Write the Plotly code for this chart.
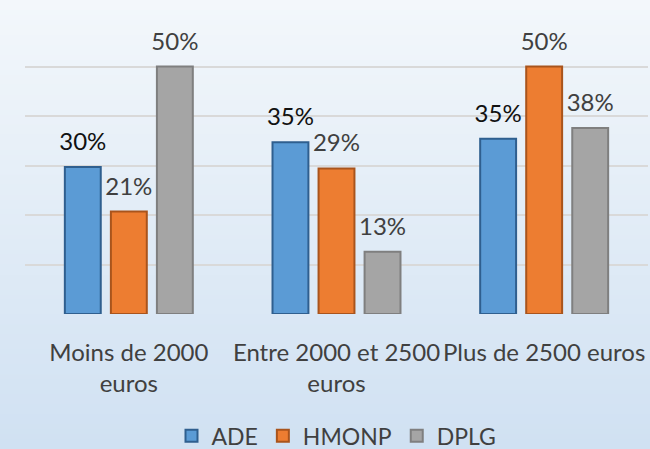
import plotly.graph_objects as go

categories = ["Moins de 2000<br>euros", "Entre 2000 et 2500<br>euros", "Plus de 2500 euros"]
series_names = ["ADE", "HMONP", "DPLG"]
ade = [0.297, 0.347, 0.354]
hmonp = [0.207, 0.294, 0.50]
dplg = [0.50, 0.126, 0.376]

fills = ["#5b9bd5", "#ed7d31", "#a5a5a5"]
borders = ["#2f5f8f", "#a9541c", "#7f7f7f"]
label_colors = ["#111111", "#404040", "#404040"]
FONT = "Lato"
FS = 24
BARGAP = 0.335

fig = go.Figure()
for name, vals, fc, bc in zip(series_names, [ade, hmonp, dplg], fills, borders):
    fig.add_trace(go.Bar(
        name=name, x=categories, y=vals,
        marker=dict(color=fc, line=dict(color=bc, width=2)),
        hoverinfo="skip",
    ))
for name, vals, lc in zip(series_names, [ade, hmonp, dplg], label_colors):
    fig.add_trace(go.Scatter(
        x=categories, y=vals, mode="markers+text", orientation="v",
        texttemplate="%{y:.0%}", textposition="top center",
        textfont=dict(family=FONT, size=FS, color=lc),
        marker=dict(size=16, opacity=0),
        showlegend=False, hoverinfo="skip", cliponaxis=False,
    ))

# gradient background
N = 90
top = (243, 247, 251)
bot = (208, 225, 242)
for i in range(N):
    t = i / (N - 1)
    c = tuple(round(top[k] + (bot[k] - top[k]) * t) for k in range(3))
    fig.add_shape(type="rect", xref="paper", yref="paper",
                  x0=-0.2, x1=1.2,
                  y0=1 + 17 / 297 - (i + 1) * (449 / 297) / N - 0.003,
                  y1=1 + 17 / 297 - i * (449 / 297) / N,
                  fillcolor="rgb(%d,%d,%d)" % c, line=dict(width=0), layer="below")

fig.update_layout(
    width=650, height=449,
    margin=dict(l=25, r=2, t=17, b=135, autoexpand=False),
    paper_bgcolor="#e2ecf7", plot_bgcolor="rgba(0,0,0,0)",
    barmode="group", bargap=BARGAP, bargroupgap=0.22,
    scattermode="group", scattergap=BARGAP,
    font=dict(family=FONT, size=FS, color="#404040"),
    legend=dict(orientation="h", x=0.5, xanchor="center", y=-0.41, yanchor="middle",
                font=dict(family=FONT, size=23, color="#404040"),
                bgcolor="rgba(0,0,0,0)", traceorder="normal"),
    showlegend=True,
)
fig.update_xaxes(tickangle=0, showgrid=False, showline=False, ticks="outside",
                 ticklen=17, tickcolor="rgba(0,0,0,0)", automargin=False,
                 tickfont=dict(family=FONT, size=FS, color="#404040"))
fig.update_yaxes(range=[0, 0.6], dtick=0.1, showticklabels=False, showgrid=True,
                 gridcolor="#d9d9d9", gridwidth=1.5, zeroline=False, showline=False,
                 automargin=False)

fig.write_html("out.html", config={"displayModeBar": False},
               post_script="document.body.style.margin='0';document.body.style.padding='0';")
